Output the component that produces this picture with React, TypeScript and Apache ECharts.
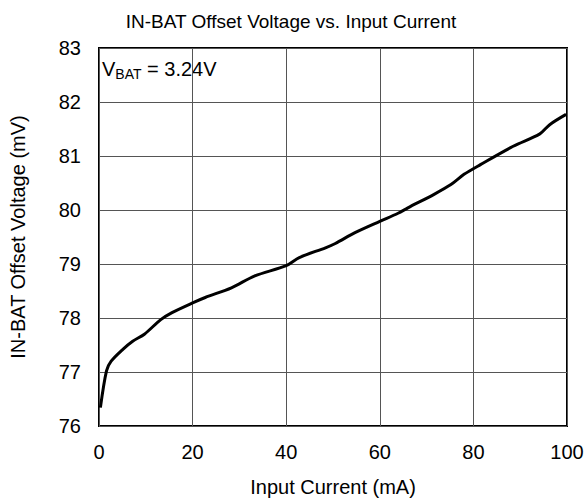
import React, { useEffect, useRef } from "react";
import * as echarts from "echarts";

const currentMA = [0.3, 1.6, 2.6, 5.1, 7.2, 9.7, 13.2, 15.6, 20, 22.7, 28.3, 33.3, 40.0, 42.8, 48.4, 50.5, 54.7, 60, 63.9, 66.0, 71.6, 75.2, 78.0, 81.5, 88.5, 94.2, 96.3, 99.8];
const offsetMV = [76.34, 77.02, 77.2, 77.42, 77.57, 77.7, 77.97, 78.1, 78.28, 78.38, 78.56, 78.78, 78.97, 79.12, 79.3, 79.38, 79.58, 79.79, 79.94, 80.04, 80.29, 80.47, 80.66, 80.84, 81.18, 81.41, 81.58, 81.77];

const FONT = "Liberation Sans, Arial, sans-serif";

export default function App() {
  const ref = useRef<HTMLDivElement>(null);
  useEffect(() => {
    document.body.style.margin = "0";
    const chart = echarts.init(ref.current!, null, { renderer: "svg" });
    chart.setOption({
      animation: false,
      backgroundColor: "#ffffff",
      title: {
        text: "IN-BAT Offset Voltage vs. Input Current",
        left: 286,
        textAlign: "center",
        top: 7,
        textStyle: { fontFamily: FONT, fontSize: 19, fontWeight: "normal", color: "#000" },
      },
      grid: { left: 94, right: 20, top: 48, bottom: 75, show: true, borderColor: "#000", borderWidth: 2 },
      xAxis: {
        type: "value",
        min: 0,
        max: 100,
        interval: 20,
        name: "Input Current (mA)",
        nameLocation: "middle",
        nameGap: 51,
        nameTextStyle: { fontFamily: FONT, fontSize: 20, color: "#000" },
        axisLine: { show: false },
        axisTick: { show: false },
        axisLabel: { fontFamily: FONT, fontSize: 20, color: "#000", margin: 16 },
        splitLine: { show: true, lineStyle: { color: "#555", width: 1 } },
      },
      yAxis: {
        type: "value",
        min: 76,
        max: 83,
        interval: 1,
        name: "IN-BAT Offset Voltage (mV)",
        nameLocation: "middle",
        nameGap: 71,
        nameTextStyle: { fontFamily: FONT, fontSize: 20, color: "#000" },
        axisLine: { show: false },
        axisTick: { show: false },
        axisLabel: { fontFamily: FONT, fontSize: 20, color: "#000", margin: 18 },
        splitLine: { show: true, lineStyle: { color: "#555", width: 1 } },
      },
      graphic: [
        {
          type: "text",
          left: 102,
          top: 59,
          style: {
            text: "{v|V}{s|BAT}{v| = 3.24V}",
            rich: {
              v: { fontFamily: FONT, fontSize: 20, fill: "#000", color: "#000" },
              s: { fontFamily: FONT, fontSize: 14, fill: "#000", color: "#000", verticalAlign: "bottom", padding: [10, 0, 0, 0] },
            },
          },
        },
      ],
      series: [
        {
          type: "line",
          data: currentMA.map((x, i) => [x, offsetMV[i]]),
          showSymbol: false,
          smooth: 0.3,
          lineStyle: { color: "#000", width: 3 },
        },
      ],
    });
    return () => chart.dispose();
  }, []);
  return <div ref={ref} style={{ width: 587, height: 502 }} />;
}
